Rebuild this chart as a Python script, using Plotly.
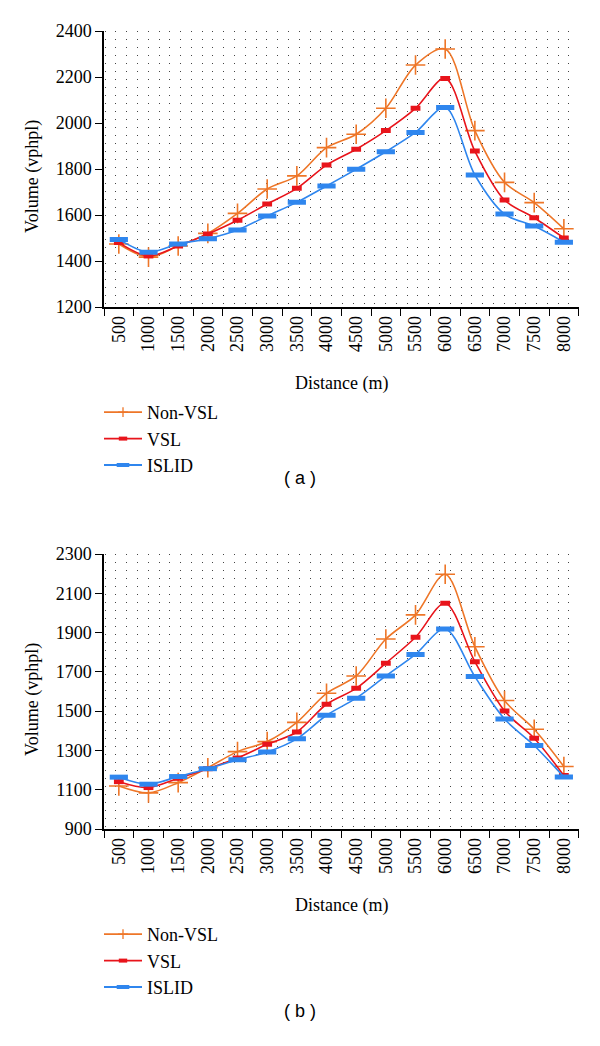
import plotly.graph_objects as go

distance = ["500", "1000", "1500", "2000", "2500", "3000", "3500", "4000",
            "4500", "5000", "5500", "6000", "6500", "7000", "7500", "8000"]

# Panel (a)
a_nonvsl = [1474, 1417, 1465, 1520, 1607, 1713, 1770, 1893, 1951, 2064, 2252, 2322, 1967, 1742, 1654, 1540]
a_vsl    = [1480, 1422, 1465, 1517, 1577, 1648, 1716, 1817, 1886, 1967, 2064, 2194, 1878, 1665, 1588, 1500]
a_islid  = [1494, 1438, 1474, 1497, 1535, 1596, 1655, 1726, 1799, 1875, 1959, 2067, 1774, 1604, 1552, 1482]

# Panel (b)
b_nonvsl = [1119, 1084, 1136, 1212, 1294, 1345, 1443, 1591, 1679, 1867, 1990, 2197, 1828, 1554, 1408, 1218]
b_vsl    = [1141, 1111, 1158, 1207, 1262, 1331, 1394, 1535, 1616, 1744, 1876, 2049, 1752, 1501, 1362, 1172]
b_islid  = [1164, 1128, 1167, 1207, 1252, 1292, 1359, 1479, 1566, 1679, 1789, 1918, 1676, 1460, 1325, 1165]

a_yticks = [1200, 1400, 1600, 1800, 2000, 2200, 2400]
b_yticks = [900, 1100, 1300, 1500, 1700, 1900, 2100, 2300]

series_names = ["Non-VSL", "VSL", "ISLID"]

W, H = 600, 1046
ORANGE = "#EE7628"
RED = "#E8141B"
BLUE = "#2F86EE"
SERIF = "Liberation Serif"

def px_x(p):
    return p / W

def px_y(p):
    return 1 - p / H

fig = go.Figure()

styles = {
    "Non-VSL": dict(color=ORANGE,
                    marker=dict(symbol="cross-thin", size=14, line=dict(color=ORANGE, width=1.6)),
                    legmarker=dict(symbol="cross-thin", size=7, line=dict(color=ORANGE, width=1.3))),
    "VSL": dict(color=RED,
                marker=dict(symbol="line-ew", size=7, color=RED, line=dict(color=RED, width=5)),
                legmarker=dict(symbol="line-ew", size=6, color=RED, line=dict(color=RED, width=4))),
    "ISLID": dict(color=BLUE,
                  marker=dict(symbol="line-ew", size=13, color=BLUE, line=dict(color=BLUE, width=5)),
                  legmarker=dict(symbol="line-ew", size=9, color=BLUE, line=dict(color=BLUE, width=4))),
}

def add_series(xa, ya, leg, values):
    for name, vals in zip(series_names, values):
        st = styles[name]
        fig.add_trace(go.Scatter(
            x=distance, y=vals, name=name, xaxis=xa, yaxis=ya, showlegend=False,
            mode="lines+markers",
            line=dict(color=st["color"], width=1.6, shape="spline", smoothing=0.9),
            marker=st["marker"]))
    # legend-only entries (no data drawn) with small sample markers
    for name in series_names:
        st = styles[name]
        fig.add_trace(go.Scatter(
            x=[None], y=[None], name=name, xaxis=xa, yaxis=ya, legend=leg,
            mode="lines+markers", line=dict(color=st["color"], width=1.8),
            marker=st["legmarker"], hoverinfo="skip"))

add_series("x", "y", "legend", [a_nonvsl, a_vsl, a_islid])
add_series("x2", "y2", "legend2", [b_nonvsl, b_vsl, b_islid])

xdom = [px_x(104), px_x(578.7)]
dom_a = [px_y(307), px_y(31)]
dom_b = [px_y(829), px_y(554)]

tickfont = dict(family=SERIF, size=18, color="black")

xcommon = dict(type="category", categoryorder="array", categoryarray=distance,
               range=[-0.5, 15.5], tickson="boundaries", ticks="outside", ticklen=7,
               tickwidth=1.3, tickcolor="black", showline=True, linecolor="black",
               linewidth=1.5, showgrid=False, zeroline=False, tickangle=-90,
               tickfont=tickfont, domain=xdom, automargin=False)
ycommon = dict(ticks="outside", ticklen=7, tickwidth=1.3, tickcolor="black",
               showline=True, linecolor="black", linewidth=1.5, showgrid=False,
               zeroline=False, tickfont=tickfont, automargin=False, dtick=200)

dotgrid = dict(range=[-1.1, 42.9], dtick=1, showgrid=True, gridcolor="#444444",
               gridwidth=1.1, griddash="1px,7px", showticklabels=False, ticks="",
               showline=False, zeroline=False, domain=xdom, automargin=False)

legfont = dict(family=SERIF, size=18, color="black")

fig.update_layout(
    width=W, height=H,
    margin=dict(l=0, r=0, t=0, b=0),
    paper_bgcolor="white", plot_bgcolor="white",
    xaxis=dict(xcommon, anchor="y"),
    yaxis=dict(ycommon, domain=dom_a, range=[1200, 2400], tickvals=a_yticks, anchor="x"),
    xaxis2=dict(xcommon, anchor="y2"),
    yaxis2=dict(ycommon, domain=dom_b, range=[900, 2300], tickvals=b_yticks, anchor="x2"),
    xaxis3=dict(dotgrid, overlaying="x", anchor="y"),
    xaxis4=dict(dotgrid, overlaying="x2", anchor="y2"),
    legend=dict(x=px_x(99), y=px_y(394), xanchor="left", yanchor="top",
                font=legfont, bgcolor="rgba(0,0,0,0)", tracegroupgap=0, itemwidth=38),
    legend2=dict(x=px_x(99), y=px_y(916), xanchor="left", yanchor="top",
                 font=legfont, bgcolor="rgba(0,0,0,0)", tracegroupgap=0, itemwidth=38),
    showlegend=True,
)

# invisible helper traces so the dotted-background axes are created
fig.add_trace(go.Scatter(x=[], y=[], xaxis="x3", yaxis="y", showlegend=False, hoverinfo="skip"))
fig.add_trace(go.Scatter(x=[], y=[], xaxis="x4", yaxis="y2", showlegend=False, hoverinfo="skip"))

ann = []
ann.append(dict(text="Volume (vphpl)", x=px_x(32), y=px_y(177), textangle=-90))
ann.append(dict(text="Distance (m)", x=px_x(341), y=px_y(383)))
ann.append(dict(text="Volume (vphpl)", x=px_x(32), y=px_y(700), textangle=-90))
ann.append(dict(text="Distance (m)", x=px_x(341), y=px_y(905)))
annotations = [dict(a, xref="paper", yref="paper", showarrow=False, xanchor="center",
                    yanchor="middle", font=dict(family=SERIF, size=18, color="black"))
               for a in ann]
annotations.append(dict(text="( a )", x=px_x(300), y=px_y(478), xref="paper", yref="paper",
                        showarrow=False, font=dict(family="Liberation Sans", size=18, color="black")))
annotations.append(dict(text="( b )", x=px_x(300), y=px_y(1023), xref="paper", yref="paper",
                        showarrow=False, font=dict(family="Liberation Sans", size=18, color="black")))
fig.update_layout(annotations=annotations)

fig.write_html("out.html", config={"displayModeBar": False},
               post_script="document.body.style.margin='0';")
